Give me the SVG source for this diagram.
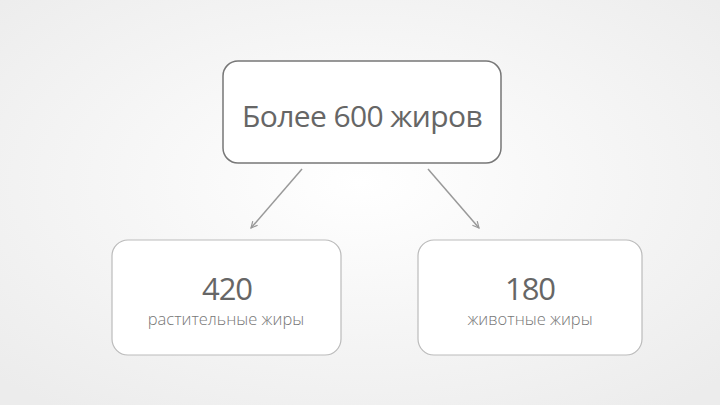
<svg xmlns="http://www.w3.org/2000/svg" width="720" height="405" viewBox="0 0 720 405">
<style>
.big{font-family:"Open Sans","Noto Sans","DejaVu Sans",sans-serif;fill:#666;text-anchor:middle}
.small{font-family:"Open Sans","Noto Sans","DejaVu Sans",sans-serif;fill:#777;text-anchor:middle;font-size:16.5px;font-weight:300}
.conn{stroke:#999;stroke-width:1.5;fill:none;marker-end:url(#ah)}
</style>
<defs>
<radialGradient id="bg" cx="0.5" cy="0.45" r="0.7">
<stop offset="0" stop-color="#ffffff"/>
<stop offset="1" stop-color="#ececec"/>
</radialGradient>
<marker id="ah" viewBox="0 0 10 10" refX="9" refY="5" markerWidth="8" markerHeight="8" orient="auto" markerUnits="userSpaceOnUse">
<path d="M1,1 L9,5 L1,9" fill="none" stroke="#999" stroke-width="1.5"/>
</marker>
</defs>
<rect width="720" height="405" fill="url(#bg)"/>
<g id="connectors">
<line class="conn" x1="302" y1="169" x2="251" y2="228"/>
<line class="conn" x1="428" y1="169" x2="479" y2="228"/>
</g>
<g id="top">
<rect x="223" y="61" width="278" height="102" rx="15" fill="#fff" stroke="#777" stroke-width="1.5"/>
<text class="big" x="362" y="127" font-size="30" letter-spacing="-0.6">Более 600 жиров</text>
</g>
<g id="left">
<rect x="112" y="240" width="229" height="115" rx="16" fill="#fff" stroke="#bbb" stroke-width="1.2"/>
<text class="big" x="227" y="300" font-size="31" letter-spacing="-1">420</text>
<text class="small" x="226" y="325">растительные жиры</text>
</g>
<g id="right">
<rect x="418" y="240" width="224" height="115" rx="16" fill="#fff" stroke="#bbb" stroke-width="1.2"/>
<text class="big" x="530" y="300" font-size="31" letter-spacing="-1">180</text>
<text class="small" x="530" y="325">животные жиры</text>
</g>
</svg>
